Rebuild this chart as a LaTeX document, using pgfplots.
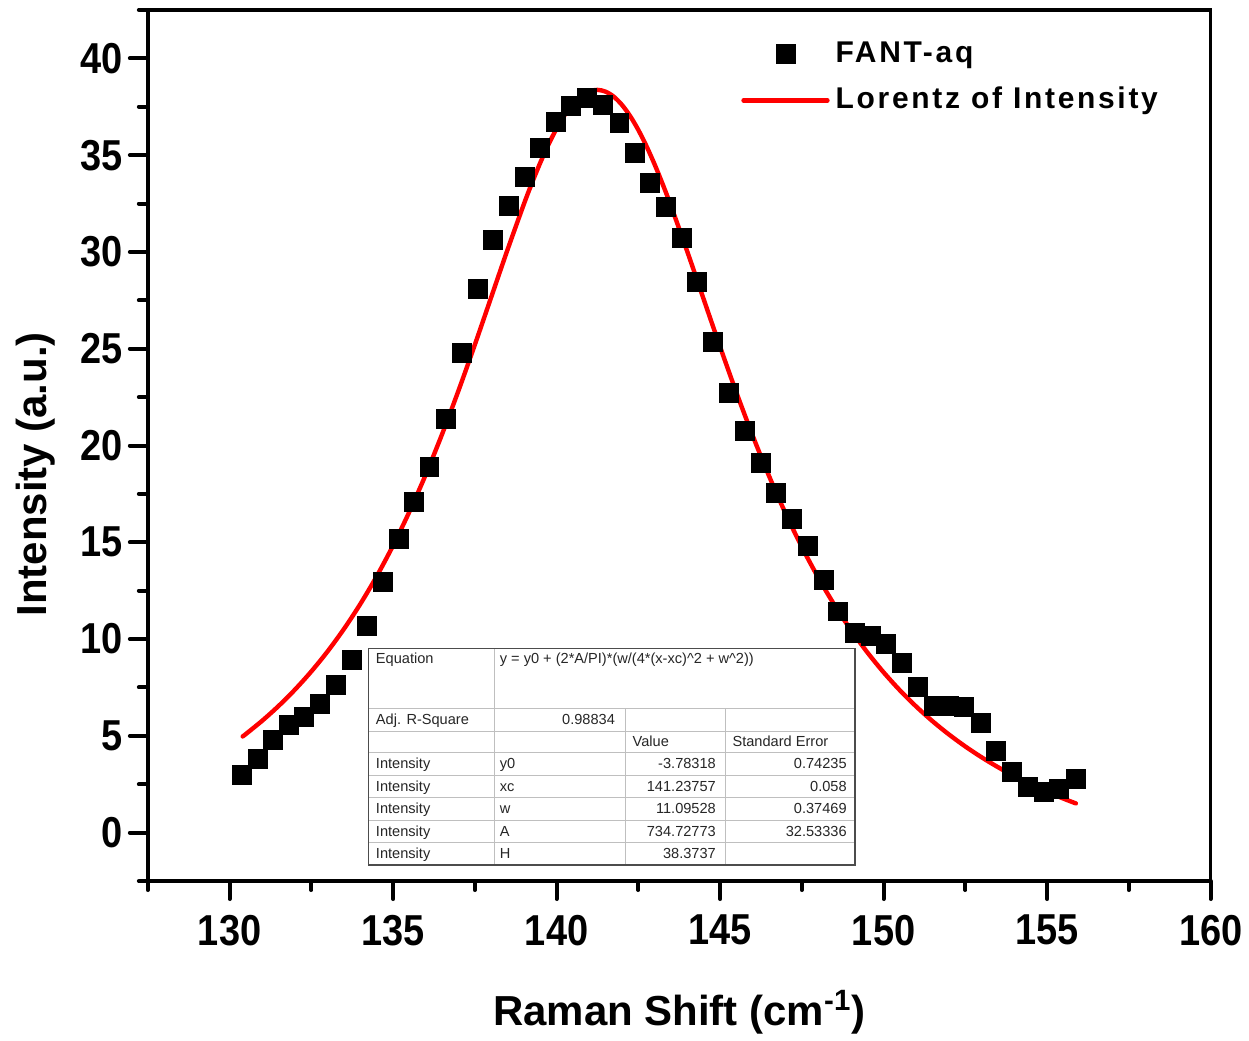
\documentclass[border=0pt]{standalone}
\usepackage{pgfplots}
\pgfplotsset{compat=1.18}
\usepackage{fontspec}
\setmainfont{Liberation Sans}
\begin{document}
\begin{tikzpicture}
\begin{axis}[
  scale only axis,
  width=532pt, height=436pt,
  xmin=127.5, xmax=160, ymin=-2.5, ymax=42.5,
  xtick={130,135,...,160}, ytick={0,5,...,40},
  minor xtick={127.5,132.5,...,157.5},
  minor ytick={-2.5,2.5,...,42.5},
  tick pos=left, tick align=outside,
  major tick length=9pt, minor tick length=4.5pt,
  every tick/.style={black, line width=2pt, line cap=round},
  axis line style={line width=1.75pt},
  /pgf/number format/assume math mode=true,
  xticklabel={\scalebox{1}[1.14]{\pgfmathprintnumber{\tick}}},
  yticklabel={\scalebox{1}[1.14]{\pgfmathprintnumber{\tick}}},
  ticklabel style={font=\fontsize{19}{19}\selectfont\bfseries},
  xticklabel style={yshift=-4.5pt},
  xlabel={Raman Shift (cm\textsuperscript{-1})},
  ylabel={Intensity (a.u.)},
  label style={font=\fontsize{21}{21}\selectfont\bfseries},
  xlabel style={at={(axis description cs:0.5,-0.166)}, anchor=base},
  ylabel style={at={(axis description cs:-0.106,0.467)}, anchor=center, rotate=0},
  legend cell align=left,
  legend image code/.code={\draw[mark repeat=2,mark phase=2,#1] plot coordinates {(0pt,0pt) (21pt,0pt) (42pt,0pt)};},
  legend style={draw=none, fill=none, at={(0.5524,0.977)}, anchor=north west,
    font=\fontsize{15}{17}\selectfont\bfseries\addfontfeature{LetterSpace=9}, row sep=3pt,
    nodes={inner sep=3pt, text height=11pt, text depth=3pt}},
  clip=false,
]
\addplot[only marks, mark=square*, mark size=4.75pt, black] coordinates {
(130.37,2.97) (130.86,3.80) (131.32,4.78) (131.81,5.55) (132.27,5.96)
(132.75,6.63) (133.24,7.61) (133.73,8.90) (134.19,10.66) (134.68,12.93)
(135.17,15.15) (135.63,17.11) (136.11,18.92) (136.60,21.39) (137.09,24.80)
(137.58,28.10) (138.04,30.63) (138.53,32.39) (139.02,33.88) (139.50,35.38)
(139.99,36.72) (140.45,37.55) (140.94,37.96) (141.43,37.60) (141.92,36.67)
(142.38,35.12) (142.86,33.57) (143.35,32.33) (143.84,30.73) (144.30,28.46)
(144.79,25.37) (145.28,22.73) (145.77,20.77) (146.26,19.12) (146.71,17.57)
(147.20,16.23) (147.69,14.79) (148.16,13.08) (148.61,11.43) (149.13,10.30)
(149.62,10.14) (150.07,9.73) (150.56,8.75) (151.05,7.51) (151.54,6.53)
(152.00,6.53) (152.46,6.48) (152.97,5.65) (153.43,4.21) (153.92,3.12)
(154.41,2.35) (154.90,2.09) (155.36,2.25) (155.88,2.76)
};
\addlegendentry{FANT-aq}
\addplot[red, line width=2.2pt, line cap=round, line join=round, smooth, mark=none] coordinates {
(130.4,4.970) (130.5,5.099) (131,5.786) (131.5,6.547) (132,7.391) (132.5,8.329)
(133,9.371) (133.5,10.530) (134,11.819) (134.5,13.250) (135,14.836)
(135.5,16.586) (136,18.506) (136.5,20.595) (137,22.839) (137.5,25.211)
(138,27.664) (138.5,30.119) (139,32.475) (139.25,33.578) (139.5,34.608)
(139.75,35.546) (140,36.376) (140.25,37.079) (140.5,37.642) (140.75,38.050)
(141,38.297) (141.25,38.373) (141.5,38.279) (141.75,38.017) (142,37.593)
(142.25,37.015) (142.5,36.298) (142.75,35.457) (143,34.509) (143.25,33.471)
(143.5,32.362) (144,29.998) (144.5,27.541)
(145,25.092) (145.5,22.725) (146,20.487) (146.5,18.407) (147,16.495)
(147.5,14.753) (148,13.175) (148.5,11.751) (149,10.469) (149.5,9.317)
(150,8.280) (150.5,7.347) (151,6.508) (151.5,5.750) (152,5.067)
(152.5,4.448) (153,3.888) (153.5,3.379) (154,2.917) (154.5,2.495)
(155,2.110) (155.5,1.757) (155.88,1.509)
};
\addlegendentry{Lorentz of Intensity}
\end{axis}
% fit-result table
\begin{scope}[shift={(current axis.south west)}, x=0.5pt, y=-0.5pt,
  tt/.style={inner sep=0pt, font=\fontsize{7.3}{8}\selectfont, text=black!85}]
  \fill[white] (221,-233) rectangle (708,-16);
  \draw[black!25, line width=0.5pt]
    (221,-173) -- (708,-173)
    (221,-150) -- (708,-150)
    (221,-129) -- (708,-129)
    (221,-106) -- (708,-106)
    (221,-84) -- (708,-84)
    (221,-61) -- (708,-61)
    (221,-39) -- (708,-39)
    (347,-233) -- (347,-16)
    (478,-173) -- (478,-16)
    (578,-173) -- (578,-16);
  \draw[black!70, line width=0.6pt] (221,-233) rectangle (708,-16);
  \node[tt, anchor=base west] at (228,-218) {Equation};
  \node[tt, anchor=base west] at (352,-218) {y = y0 + (2*A/PI)*(w/(4*(x-xc)\textasciicircum 2 + w\textasciicircum 2))};
  \node[tt, anchor=base west] at (228,-156.5) {Adj. R-Square};
  \node[tt, anchor=base east] at (468,-156.5) {0.98834};
  \node[tt, anchor=base west] at (485,-134.5) {Value};
  \node[tt, anchor=base west] at (585,-134.5) {Standard Error};
  \node[tt, anchor=base west] at (228,-112.5) {Intensity};
  \node[tt, anchor=base west] at (352,-112.5) {y0};
  \node[tt, anchor=base east] at (569,-112.5) {-3.78318};
  \node[tt, anchor=base east] at (700,-112.5) {0.74235};
  \node[tt, anchor=base west] at (228,-90) {Intensity};
  \node[tt, anchor=base west] at (352,-90) {xc};
  \node[tt, anchor=base east] at (569,-90) {141.23757};
  \node[tt, anchor=base east] at (700,-90) {0.058};
  \node[tt, anchor=base west] at (228,-67.5) {Intensity};
  \node[tt, anchor=base west] at (352,-67.5) {w};
  \node[tt, anchor=base east] at (569,-67.5) {11.09528};
  \node[tt, anchor=base east] at (700,-67.5) {0.37469};
  \node[tt, anchor=base west] at (228,-45) {Intensity};
  \node[tt, anchor=base west] at (352,-45) {A};
  \node[tt, anchor=base east] at (569,-45) {734.72773};
  \node[tt, anchor=base east] at (700,-45) {32.53336};
  \node[tt, anchor=base west] at (228,-22.5) {Intensity};
  \node[tt, anchor=base west] at (352,-22.5) {H};
  \node[tt, anchor=base east] at (569,-22.5) {38.3737};
\end{scope}
\path ([shift={(-74pt,-78pt)}]current axis.south west) rectangle ([shift={(18.5pt,5pt)}]current axis.north east);
\end{tikzpicture}
\end{document}
